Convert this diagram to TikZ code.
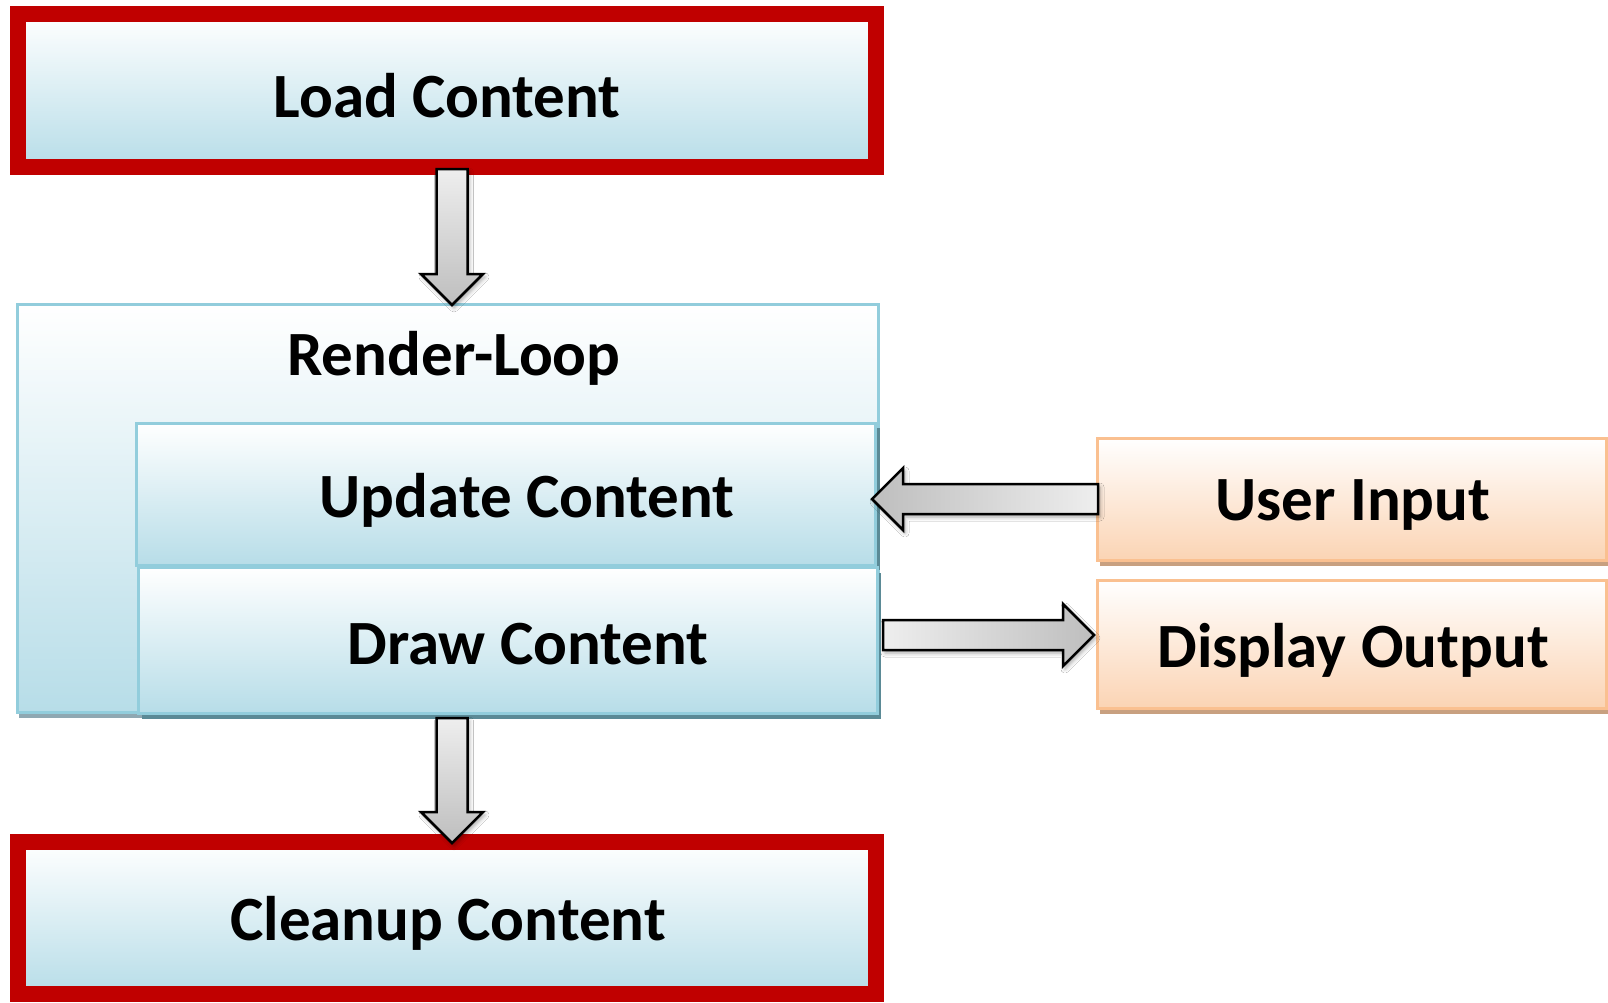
\documentclass[tikz,border=0pt]{standalone}
\usepackage{fontspec}
\setmainfont{Carlito}
\usetikzlibrary{calc,shadows,shadows.blur}
\definecolor{rededge}{RGB}{192,0,0}
\definecolor{blueedge}{RGB}{146,205,220}
\definecolor{bluefill}{RGB}{183,221,232}
\definecolor{orangeedge}{RGB}{250,192,144}
\definecolor{orangefill}{RGB}{251,212,180}
\definecolor{grayshadow}{RGB}{143,168,178}
\definecolor{tealshadow}{RGB}{91,138,150}
\definecolor{brownshadow}{RGB}{200,160,128}
\definecolor{arrlight}{RGB}{238,238,238}
\definecolor{arrdark}{RGB}{190,190,190}
\tikzset{
  lbl/.style={font=\bfseries\fontsize{63}{75}\selectfont, inner sep=0pt, outer sep=0pt},
  boxbase/.style={lbl, rectangle, outer sep=0pt},
  redbox/.style={boxbase, draw=rededge, line width=16pt, top color=white, bottom color=bluefill,
    drop shadow={shadow xshift=3pt, shadow yshift=-6pt, fill=grayshadow, opacity=1}},
  bluebox/.style={boxbase, draw=blueedge, line width=3pt, top color=white, bottom color=bluefill},
  orangebox/.style={boxbase, draw=orangeedge, line width=3pt, top color=white, bottom color=orangefill,
    drop shadow={shadow xshift=3pt, shadow yshift=-6pt, fill=brownshadow, opacity=1}},
  blockarrow/.style={draw=black, line width=2.5pt, line join=miter,
    blur shadow={shadow xshift=2pt, shadow yshift=-3pt, shadow blur radius=4pt, shadow opacity=35}},
}
% vertical block arrow pointing down: #1 tail, #2 tip
\newcommand\VBlockArrow[2]{%
  \draw[blockarrow, top color=arrlight, bottom color=arrdark]
    let \p1=(#1), \p2=(#2) in
    (\x1-15.5pt,\y1) -- (\x1+15.5pt,\y1) -- (\x1+15.5pt,\y2+31pt) -- (\x1+31pt,\y2+31pt)
    -- (\x1,\y2) -- (\x1-31pt,\y2+31pt) -- (\x1-15.5pt,\y2+31pt) -- cycle;}
% horizontal block arrow pointing left: #1 tail (right), #2 tip (left)
\newcommand\LBlockArrow[2]{%
  \draw[blockarrow, left color=arrdark, right color=arrlight]
    let \p1=(#1), \p2=(#2) in
    (\x1,\y1+15pt) -- (\x2+31pt,\y1+15pt) -- (\x2+31pt,\y1+31pt) -- (\x2,\y1)
    -- (\x2+31pt,\y1-31pt) -- (\x2+31pt,\y1-15pt) -- (\x1,\y1-15pt) -- cycle;}
% horizontal block arrow pointing right: #1 tail (left), #2 tip (right)
\newcommand\RBlockArrow[2]{%
  \draw[blockarrow, left color=arrlight, right color=arrdark]
    let \p1=(#1), \p2=(#2) in
    (\x1,\y1+15pt) -- (\x2-31pt,\y1+15pt) -- (\x2-31pt,\y1+31pt) -- (\x2,\y1)
    -- (\x2-31pt,\y1-31pt) -- (\x2-31pt,\y1-15pt) -- (\x1,\y1-15pt) -- cycle;}
\begin{document}
\begin{tikzpicture}[x=1pt,y=-1pt]
\useasboundingbox[fill=white] (0,0) rectangle (1608,1002);

% Render-Loop container
\node[bluebox, minimum width=861pt, minimum height=408pt,
  drop shadow={shadow xshift=2pt, shadow yshift=-6pt, fill=grayshadow, opacity=1}]
  (render) at (447.5,508) {};
\node[lbl] (rltext) at (454,358) {Render-Loop};

% Update and Draw content
\node[bluebox, minimum width=739pt, minimum height=142pt,
  drop shadow={shadow xshift=5pt, shadow yshift=-5pt, fill=tealshadow, opacity=1}]
  (upd) at (505.5,494) {};
\node[lbl] (updtext) at (527,500) {Update Content};
\node[bluebox, minimum width=739pt, minimum height=146pt,
  drop shadow={shadow xshift=4pt, shadow yshift=-6pt, fill=tealshadow, opacity=1}]
  (drw) at (507.5,640) {};
\node[lbl] (drwtext) at (528,644) {Draw Content};

% Load and Cleanup
\node[redbox, minimum width=858pt, minimum height=153pt] (load) at (447,90.5) {};
\node[lbl] (loadtext) at (447,96) {Load Content};
\node[redbox, minimum width=858pt, minimum height=152pt] (clean) at (447,918) {};
\node[lbl] (cleantext) at (448,923.5) {Cleanup Content};

% User input / display output
\node[orangebox, minimum width=509pt, minimum height=122pt] (user) at (1351.5,499) {};
\node[lbl] (usertext) at (1353,505.5) {User Input};
\node[orangebox, minimum width=509pt, minimum height=128pt] (disp) at (1351.5,644) {};
\node[lbl] (disptext) at (1353,650.5) {Display Output};

% connectors
\coordinate (a1t) at ($(load.south)+(5,2)$);
\coordinate (a1h) at ($(render.north)+(4.5,1)$);
\VBlockArrow{a1t}{a1h}
\coordinate (a2t) at ($(drw.south -| a1t)+(0,5)$);
\coordinate (a2h) at ($(clean.north -| a1t)+(0,1)$);
\VBlockArrow{a2t}{a2h}
\coordinate (a3t) at ($(user.west)+(1,0)$);
\coordinate (a3h) at ($(upd.east |- user.west)+(-3,0)$);
\LBlockArrow{a3t}{a3h}
\coordinate (a4t) at ($(drw.east)+(6,-5)$);
\coordinate (a4h) at ($(disp.west |- a4t)+(-3,0)$);
\RBlockArrow{a4t}{a4h}
\end{tikzpicture}
\end{document}
